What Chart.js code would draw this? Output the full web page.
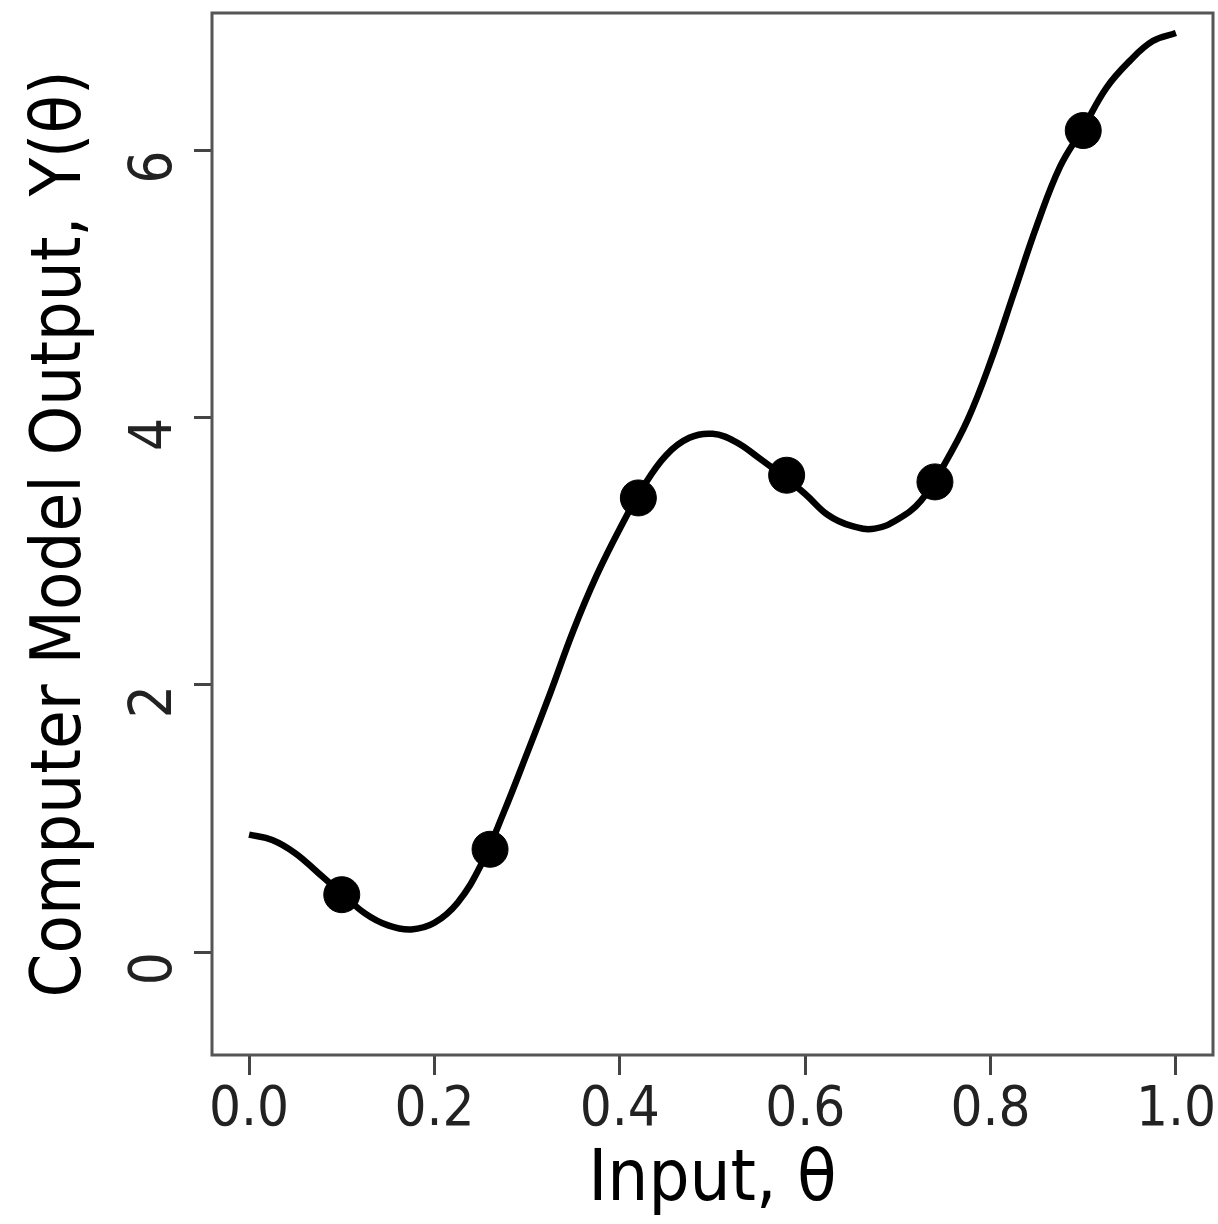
<!DOCTYPE html>
<html>
<head>
<meta charset="utf-8">
<script src="https://cdn.jsdelivr.net/npm/chart.js@4/dist/chart.umd.min.js"></script>
<style>
  html, body { margin: 0; padding: 0; background: #fff; }
  #wrap { width: 1218px; height: 1224px; }
</style>
</head>
<body>
<div id="wrap"><canvas id="myChart" width="1218" height="1224"></canvas></div>
<script>
// emulator curve
var curveX = [0, 0.025, 0.05, 0.075, 0.1, 0.125, 0.15, 0.175, 0.2, 0.225, 0.25, 0.275, 0.3, 0.325, 0.35, 0.375, 0.4, 0.425, 0.45, 0.475, 0.5,
              0.525, 0.55, 0.575, 0.6, 0.625, 0.65, 0.675, 0.7, 0.725, 0.75, 0.775, 0.8, 0.825, 0.85, 0.875, 0.9, 0.925, 0.95, 0.975, 1];
var curveY = [0.88, 0.84, 0.74, 0.59, 0.44, 0.29, 0.20, 0.17, 0.22, 0.37, 0.65, 1.05, 1.49, 1.94, 2.41, 2.82, 3.17, 3.48, 3.72, 3.85, 3.88,
              3.82, 3.70, 3.57, 3.43, 3.27, 3.19, 3.17, 3.24, 3.38, 3.65, 3.98, 4.42, 4.93, 5.44, 5.88, 6.17, 6.47, 6.67, 6.82, 6.88];
// the design points (model runs)
var runX = [0.1, 0.26, 0.42, 0.58, 0.74, 0.9];
var runY = [0.43, 0.77, 3.40, 3.57, 3.52, 6.15];
// ticks
var xTicks = [0, 0.2, 0.4, 0.6, 0.8, 1.0];
var yTicks = [0, 2, 4, 6];

var font = "'DejaVu Sans Condensed', 'Liberation Sans Narrow', sans-serif";

var curve = curveX.map(function (x, i) { return { x: x, y: curveY[i] }; });
var runs = runX.map(function (x, i) { return { x: x, y: runY[i] }; });

// box around the plot region, like R's box()
var frame = {
  id: 'frame',
  afterDraw: function (chart) {
    var a = chart.chartArea, c = chart.ctx;
    c.save();
    c.strokeStyle = '#555';
    c.lineWidth = 3;
    c.strokeRect(a.left, a.top, a.right - a.left, a.bottom - a.top);
    c.restore();
  }
};

function noPad(s) {
  s.paddingLeft = 0; s.paddingRight = 0; s.paddingTop = 0; s.paddingBottom = 0;
}

var ctx = document.getElementById("myChart");
var myChart = new Chart(ctx, {
  type: 'scatter',
  data: {
    datasets: [
      {
        data: runs,
        backgroundColor: '#000',
        borderColor: '#000',
        pointRadius: 18,
        pointHoverRadius: 18,
        showLine: false
      },
      {
        data: curve,
        showLine: true,
        borderColor: '#000',
        borderWidth: 6.5,
        pointRadius: 0,
        tension: 0.4,
        fill: false
      }
    ]
  },
  options: {
    responsive: false,
    animation: false,
    layout: { autoPadding: false, padding: { top: 13, right: 5, left: 0, bottom: 0 } },
    plugins: { legend: { display: false }, tooltip: { enabled: false } },
    scales: {
      x: {
        type: 'linear',
        min: -0.04,
        max: 1.04,
        afterBuildTicks: function (s) { s.ticks = xTicks.map(function (v) { return { value: v }; }); },
        afterFit: function (s) { s.height = 169; noPad(s); },
        grid: { drawOnChartArea: false, tickLength: 20, color: '#444', lineWidth: 3 },
        border: { display: false },
        ticks: {
          color: '#222',
          font: { family: font, size: 56 },
          padding: 2,
          maxRotation: 0,
          callback: function (v) { return v.toFixed(1); }
        },
        title: {
          display: true,
          text: 'Input, θ',
          color: '#000',
          font: { family: font, size: 72 },
          padding: { top: 0, bottom: 0 }
        }
      },
      y: {
        min: -0.77,
        max: 7.03,
        afterBuildTicks: function (s) { s.ticks = yTicks.map(function (v) { return { value: v }; }); },
        afterFit: function (s) { s.width = 212; noPad(s); },
        grid: { drawOnChartArea: false, tickLength: 18, color: '#444', lineWidth: 3 },
        border: { display: false },
        ticks: {
          color: '#222',
          font: { family: font, size: 58 },
          padding: 38,
          minRotation: 90,
          maxRotation: 90,
          callback: function (v) { return String(v); }
        },
        title: {
          display: true,
          text: 'Computer Model Output, Y(θ)',
          color: '#000',
          font: { family: font, size: 70 },
          padding: { top: 20, bottom: 0 }
        }
      }
    }
  },
  plugins: [frame]
});
</script>
</body>
</html>
